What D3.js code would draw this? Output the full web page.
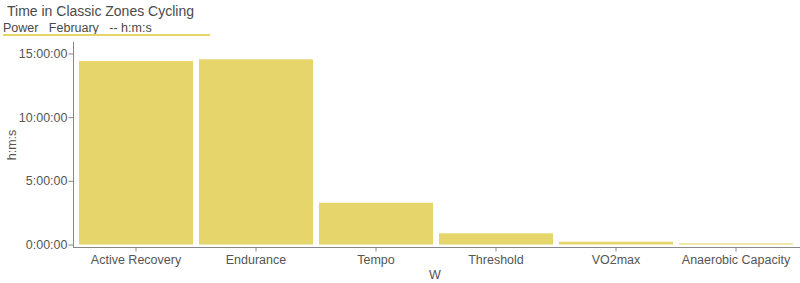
<!DOCTYPE html>
<html><head><meta charset="utf-8">
<script src="https://cdn.jsdelivr.net/npm/d3@7"></script>
<style>body{margin:0;background:#fff}svg{display:block}text{font-family:"Liberation Sans",Arial,sans-serif;white-space:pre}</style>
</head><body><svg id="c" width="800" height="283"></svg>
<script>
const categories = ["Active Recovery","Endurance","Tempo","Threshold","VO2max","Anaerobic Capacity"];
const seconds = [51876, 52344, 11808, 3168, 792, 324];
const yTicks = [0, 18000, 36000, 54000];
const title = "Time in Classic Zones Cycling";
const subtitle = "Power   February   -- h:m:s";
const xTitle = "W", yTitle = "h:m:s";

const svg = d3.select("#c");
const color = "#e6d56a", txt = "#555", axisCol = "#888";
const x = d3.scaleBand().domain(categories).range([76, 796]).paddingInner(0.05).paddingOuter(0.025);
const y = d3.scaleLinear().domain([0, 15.9*3600]).range([244.5, 42]);
const fmt = s => { const h=Math.floor(s/3600), m=Math.floor(s%3600/60), ss=Math.round(s%60); return h+":"+String(m).padStart(2,"0")+":"+String(ss).padStart(2,"0"); };

svg.append("text").attr("x",7).attr("y",16).attr("font-size",14).attr("fill","#4a4a4a").text(title);
svg.append("text").attr("x",3).attr("y",32).attr("font-size",12.5).attr("fill","#4a4a4a").attr("xml:space","preserve").text(subtitle);
svg.append("line").attr("x1",3).attr("x2",210).attr("y1",35).attr("y2",35).attr("stroke",color).attr("stroke-width",2);

svg.selectAll("rect.bar").data(seconds).join("rect").attr("class","bar")
  .attr("x",(d,i)=>x(categories[i])).attr("width",x.bandwidth())
  .attr("y",d=>y(d)).attr("height",d=>y(0)-y(d)).attr("fill",color);

const yAxis = d3.axisLeft(y).tickValues(yTicks).tickFormat(fmt).tickSize(5).tickSizeOuter(0);
const gy = svg.append("g").attr("transform","translate(73.5,0)").call(yAxis);
gy.select(".domain").remove();
gy.append("line").attr("x1",0).attr("x2",0).attr("y1",42).attr("y2",248).attr("stroke",axisCol);
gy.selectAll(".tick line").attr("stroke",axisCol);
gy.selectAll(".tick text").attr("fill",txt).attr("font-size",12.5).attr("x",-6).style("font-family","Liberation Sans, Arial, sans-serif");

const xAxis = d3.axisBottom(x).tickSize(4).tickSizeOuter(0);
const gx = svg.append("g").attr("transform","translate(0,247.5)").call(xAxis);
gx.select(".domain").remove();
gx.append("line").attr("x1",73).attr("x2",800).attr("y1",0).attr("y2",0).attr("stroke",axisCol);
gx.selectAll(".tick line").attr("stroke",axisCol);
gx.selectAll(".tick text").attr("fill",txt).attr("font-size",12.5).attr("y",8).style("font-family","Liberation Sans, Arial, sans-serif");

svg.append("text").attr("x",435).attr("y",279).attr("text-anchor","middle").attr("font-size",12.5).attr("fill",txt).text(xTitle);
svg.append("text").attr("transform","translate(16,145) rotate(-90)").attr("text-anchor","middle").attr("font-size",12.5).attr("fill",txt).text(yTitle);
</script></body></html>
